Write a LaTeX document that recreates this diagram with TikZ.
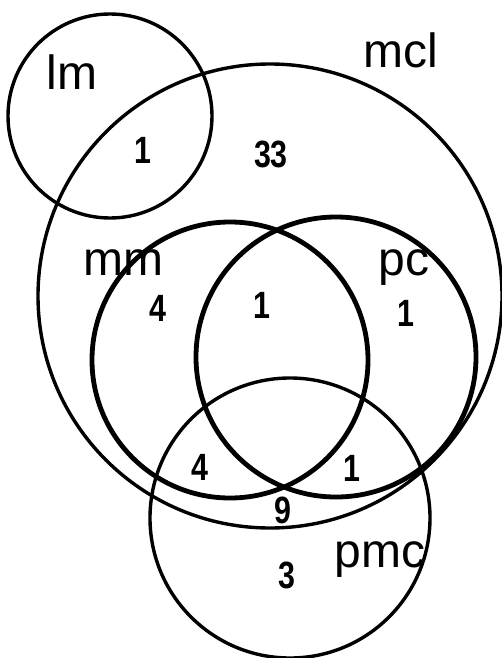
\documentclass[tikz,border=0pt]{standalone}
\usepackage{fontspec}
\setmainfont{Liberation Sans}
\newcommand{\narrowdigits}[1]{\scalebox{0.8}[1]{#1}}
\begin{document}
\begin{tikzpicture}[x=1pt,y=-1pt,
  setline/.style={line width=3.4pt},
  boldline/.style={line width=4.8pt},
  setname/.style={font=\fontsize{48}{48}\selectfont, inner sep=0pt},
  count/.style={font=\fontsize{38}{38}\selectfont\bfseries, inner sep=0pt}]
\useasboundingbox (0,0) rectangle (502,658);
% centres
\coordinate (clm) at (110,116);
\coordinate (cmcl) at (270,296);
\coordinate (cmm) at (230,360);
\coordinate (cpc) at (336,357);
\coordinate (cpmc) at (290,518);
% labels
\node[setname] (lm) at (72,72) {lm};
\node[setname] (mcl) at (401,50) {mcl};
\node[setname] (mm) at (123,263) {mm};
\node[setname] (pc) at (404,268) {pc};
\node[setname] (pmc) at (380,560) {pmc};
% counts
\node[count] (n1) at (143,150) {\narrowdigits{1}};
\node[count] (n2) at (271,154) {\narrowdigits{33}};
\node[count] (n3) at (158,308) {\narrowdigits{4}};
\node[count] (n4) at (262,305) {\narrowdigits{1}};
\node[count] (n5) at (406,313) {\narrowdigits{1}};
\node[count] (n6) at (200,467) {\narrowdigits{4}};
\node[count] (n7) at (352,468) {\narrowdigits{1}};
\node[count] (n8) at (283,510) {\narrowdigits{9}};
\node[count] (n9) at (287,575) {\narrowdigits{3}};
% circles
\draw[setline] (clm) circle (102);
\draw[setline] (cmcl) circle (232);
\draw[boldline] (cmm) circle (138);
\draw[boldline] (cpc) circle (140);
\draw[setline] (cpmc) circle (140);
\end{tikzpicture}
\end{document}
